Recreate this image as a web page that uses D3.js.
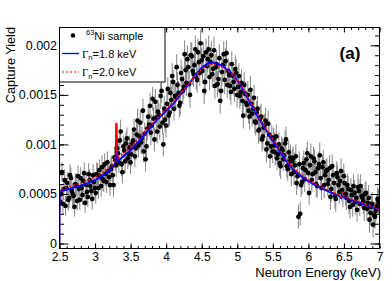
<!DOCTYPE html>
<html><head><meta charset="utf-8">
<script src="https://cdn.jsdelivr.net/npm/d3@7"></script>
<style>body{margin:0;background:#fff}svg{display:block}</style>
</head><body>
<script>
// ---- data (yields and errors in units of 1e-4) ----
const UNIT = 1e-4;
const energy = [
2.51,2.535,2.56,2.585,2.61,2.635,2.66,2.685,2.71,2.735,
2.76,2.785,2.81,2.835,2.86,2.885,2.91,2.935,2.96,2.985,
3.01,3.035,3.06,3.085,3.11,3.135,3.16,3.185,3.21,3.235,
3.26,3.285,3.31,3.335,3.36,3.385,3.41,3.435,3.46,3.485,
3.51,3.535,3.56,3.585,3.61,3.635,3.66,3.685,3.71,3.735,
3.76,3.785,3.81,3.835,3.86,3.885,3.91,3.935,3.96,3.985,
4.01,4.035,4.06,4.085,4.11,4.135,4.16,4.185,4.21,4.235,
4.26,4.285,4.31,4.335,4.36,4.385,4.41,4.435,4.46,4.485,
4.51,4.535,4.56,4.585,4.61,4.635,4.66,4.685,4.71,4.735,
4.76,4.785,4.81,4.835,4.86,4.885,4.91,4.935,4.96,4.985,
5.01,5.035,5.06,5.085,5.11,5.135,5.16,5.185,5.21,5.235,
5.26,5.285,5.31,5.335,5.36,5.385,5.41,5.435,5.46,5.485,
5.51,5.535,5.56,5.585,5.61,5.635,5.66,5.685,5.71,5.735,
5.76,5.785,5.81,5.835,5.86,5.885,5.91,5.935,5.96,5.985,
6.01,6.035,6.06,6.085,6.11,6.135,6.16,6.185,6.21,6.235,
6.26,6.285,6.31,6.335,6.36,6.385,6.41,6.435,6.46,6.485,
6.51,6.535,6.56,6.585,6.61,6.635,6.66,6.685,6.71,6.735,
6.76,6.785,6.81,6.835,6.86,6.885,6.91,6.935,6.96,6.985,
2.523,2.548,2.573,2.598,2.623,2.648,2.673,2.698,2.723,2.748,
2.773,2.798,2.823,2.848,2.873,2.898,2.923,2.948,2.973,2.998,
3.023,3.048,3.073,3.098,3.123,3.148,3.173,3.198,3.223,3.248,
3.273,3.298,3.323,3.348,3.373,3.398,3.423,3.448,3.473,3.498,
3.523,3.548,3.573,3.598,3.623,3.648,3.673,3.698,3.723,3.748,
3.773,3.798,3.823,3.848,3.873,3.898,3.923,3.948,3.973,3.998,
4.023,4.048,4.073,4.098,4.123,4.148,4.173,4.198,4.223,4.248,
4.273,4.298,4.323,4.348,4.373,4.398,4.423,4.448,4.473,4.498,
4.523,4.548,4.573,4.598,4.623,4.648,4.673,4.698,4.723,4.748,
4.773,4.798,4.823,4.848,4.873,4.898,4.923,4.948,4.973,4.998,
5.023,5.048,5.073,5.098,5.123,5.148,5.173,5.198,5.223,5.248,
5.273,5.298,5.323,5.348,5.373,5.398,5.423,5.448,5.473,5.498,
5.523,5.548,5.573,5.598,5.623,5.648,5.673,5.698,5.723,5.748,
5.773,5.798,5.823,5.848,5.873,5.898,5.923,5.948,5.973,5.998,
6.023,6.048,6.073,6.098,6.123,6.148,6.173,6.198,6.223,6.248,
6.273,6.298,6.323,6.348,6.373,6.398,6.423,6.448,6.473,6.498,
6.523,6.548,6.573,6.598,6.623,6.648,6.673,6.698,6.723,6.748,
6.773,6.798,6.823,6.848,6.873,6.898,6.923,6.948,6.973,6.998];
const yieldE4 = [
4.2,7.2,5.5,3.8,6.1,4.6,6.6,5.0,3.7,5.9,
6.8,4.4,5.6,6.3,4.1,5.2,7.0,5.8,4.5,6.2,
5.1,6.9,7.4,5.8,6.5,8.0,6.2,7.3,5.9,7.8,
5.9,8.4,9.6,8.2,11.3,7.2,9.4,10.1,8.6,9.7,
9.0,10.4,8.8,11.0,9.9,12.2,10.6,9.3,8.5,11.6,
12.0,11.2,14.6,10.5,12.7,13.3,11.8,15.4,10.0,12.5,
14.1,12.9,15.2,16.9,13.6,14.8,16.0,13.9,17.2,15.4,
19.1,16.2,17.8,15.0,18.9,17.1,19.6,16.5,18.3,20.2,
17.4,15.4,19.3,18.6,16.8,19.0,17.6,15.9,18.1,16.6,
14.4,17.3,19.1,18.4,16.0,17.0,15.3,16.9,15.6,17.2,
15.8,14.9,16.2,12.9,15.1,14.0,13.4,15.5,13.1,14.7,
12.2,13.6,11.5,12.8,10.8,11.9,9.5,12.1,8.8,10.7,
10.5,9.2,8.6,10.0,7.8,9.4,8.9,10.5,7.5,8.3,
7.0,8.6,7.9,6.1,2.7,3.0,6.2,8.1,7.4,9.1,
5.1,8.8,7.0,8.3,6.0,7.6,8.9,5.6,8.2,6.9,
7.4,6.4,4.7,7.8,6.1,4.5,6.7,5.2,7.3,4.9,
6.1,4.6,5.5,3.7,4.9,5.8,4.2,3.4,5.3,5.8,
4.6,3.6,5.1,4.1,2.4,3.7,1.9,2.7,3.7,4.2,
5.0,4.0,6.4,5.6,4.4,6.9,5.3,4.8,6.0,4.3,
5.5,6.6,4.9,7.1,5.9,4.7,6.4,5.3,6.9,5.6,
7.0,5.6,6.8,7.7,6.3,7.0,8.2,6.7,7.5,6.9,
8.7,7.9,9.1,10.4,8.0,9.8,8.3,10.6,9.0,8.2,
10.1,11.5,9.6,12.4,10.8,10.2,13.4,11.1,9.8,12.8,
13.9,11.9,12.6,14.3,11.3,13.0,14.9,12.2,13.6,11.9,
15.6,13.2,14.5,16.3,14.9,17.8,15.2,14.2,16.6,15.8,
17.5,18.6,16.1,19.0,17.4,18.0,16.8,19.3,17.2,18.5,
18.9,16.3,17.9,19.6,18.3,17.1,19.5,17.8,16.1,18.7,
15.4,18.0,16.5,19.2,17.4,15.9,18.1,16.3,17.6,15.0,
16.9,15.3,14.4,16.0,14.2,15.0,12.8,14.1,13.6,12.3,
13.2,11.4,12.6,10.5,11.7,12.4,10.1,11.0,9.8,9.3,
9.9,10.8,9.0,8.1,9.6,8.5,10.1,7.8,9.2,8.7,
8.3,7.2,8.8,6.8,8.0,5.9,7.6,6.5,8.5,7.1,
7.9,6.4,8.6,7.2,5.8,8.0,6.6,7.7,5.9,7.3,
6.0,7.6,5.5,6.9,4.8,7.1,5.9,6.3,5.4,6.8,
5.0,5.9,4.3,5.4,3.9,5.1,4.6,5.7,4.0,4.8,
4.3,5.0,3.5,4.6,3.1,4.0,2.9,3.3,4.5,3.6];
const errE4 = [
1.1,1.0,1.1,1.0,1.1,1.0,1.1,1.1,1.0,1.1,
1.1,1.0,1.1,1.1,1.0,1.1,1.1,1.0,1.1,1.1,
1.1,1.2,1.1,1.1,1.2,1.1,1.1,1.2,1.1,1.1,
1.2,1.1,1.2,1.1,1.2,1.1,1.2,1.2,1.1,1.2,
1.2,1.2,1.1,1.2,1.2,1.3,1.2,1.1,1.2,1.2,
1.2,1.3,1.2,1.2,1.3,1.2,1.3,1.2,1.2,1.3,
1.3,1.2,1.3,1.3,1.2,1.3,1.3,1.2,1.4,1.3,
1.4,1.3,1.3,1.3,1.4,1.3,1.4,1.3,1.3,1.4,
1.3,1.3,1.4,1.3,1.3,1.4,1.3,1.3,1.4,1.3,
1.3,1.4,1.3,1.3,1.3,1.4,1.3,1.3,1.3,1.4,
1.3,1.3,1.4,1.3,1.3,1.3,1.3,1.4,1.3,1.3,
1.3,1.3,1.2,1.3,1.3,1.2,1.3,1.3,1.2,1.3,
1.2,1.3,1.2,1.2,1.3,1.2,1.2,1.3,1.2,1.2,
1.2,1.2,1.3,1.2,1.2,1.2,1.2,1.3,1.2,1.2,
1.2,1.3,1.2,1.2,1.3,1.2,1.3,1.2,1.2,1.3,
1.2,1.2,1.3,1.2,1.2,1.3,1.2,1.2,1.3,1.2,
1.2,1.2,1.3,1.2,1.2,1.2,1.3,1.2,1.2,1.2,
1.2,1.3,1.2,1.2,1.3,1.2,1.3,1.2,1.2,1.3,
1.0,1.1,1.1,1.0,1.1,1.1,1.0,1.1,1.1,1.0,
1.1,1.1,1.0,1.1,1.1,1.0,1.1,1.1,1.1,1.0,
1.2,1.1,1.1,1.2,1.1,1.2,1.1,1.1,1.2,1.1,
1.1,1.2,1.2,1.1,1.2,1.1,1.2,1.1,1.2,1.2,
1.2,1.1,1.2,1.2,1.3,1.2,1.2,1.1,1.2,1.3,
1.3,1.2,1.2,1.3,1.2,1.2,1.3,1.2,1.3,1.2,
1.2,1.3,1.3,1.2,1.3,1.3,1.2,1.3,1.3,1.2,
1.3,1.4,1.3,1.3,1.4,1.3,1.3,1.4,1.3,1.3,
1.4,1.3,1.3,1.4,1.3,1.3,1.4,1.3,1.3,1.4,
1.3,1.3,1.4,1.3,1.3,1.4,1.3,1.3,1.4,1.3,
1.3,1.4,1.3,1.3,1.3,1.4,1.3,1.3,1.3,1.2,
1.2,1.3,1.3,1.2,1.3,1.3,1.2,1.3,1.2,1.2,
1.3,1.2,1.2,1.3,1.2,1.2,1.3,1.2,1.2,1.3,
1.2,1.3,1.2,1.2,1.3,1.2,1.2,1.3,1.2,1.2,
1.3,1.2,1.2,1.3,1.2,1.3,1.2,1.2,1.3,1.2,
1.2,1.3,1.2,1.2,1.3,1.2,1.2,1.3,1.2,1.3,
1.2,1.2,1.3,1.2,1.2,1.3,1.2,1.3,1.2,1.2,
1.3,1.2,1.2,1.3,1.2,1.2,1.3,1.2,1.2,1.3];

const fitEnergy = [2.5,2.5,2.6,2.7,2.8,2.9,3.0,3.1,3.2,
3.25,3.28,3.295,3.3,3.305,3.32,3.35,3.4,
3.5,3.6,3.7,3.8,3.9,4.0,4.1,4.2,4.3,4.4,4.5,4.6,
4.65,
4.7,4.8,4.9,5.0,5.1,5.2,5.3,5.4,5.5,5.6,5.7,5.8,5.9,6.0,6.1,6.2,6.3,6.4,
6.44,6.46,6.48,
6.5,6.6,6.7,6.8,6.9,7.0];
const fitG18E4 = [0,5.25,5.45,5.65,5.85,6.1,6.4,6.8,7.35,
7.75,8.05,9.0,12.1,9.5,8.3,8.5,8.8,
9.4,10.2,11.0,11.9,12.7,13.4,14.1,15.0,15.9,16.9,17.75,18.25,
18.3,
18.2,17.9,17.3,16.5,15.3,14.0,12.7,11.5,10.4,9.3,8.2,7.4,6.8,6.3,5.9,5.55,5.2,4.9,
4.75,4.6,5.0,
4.65,4.4,4.15,3.9,3.65,3.4];
const fitG20E4 = [0,5.45,5.7,5.9,6.1,6.4,6.7,7.1,7.65,
8.05,8.35,9.3,12.2,9.8,8.6,8.8,9.1,
9.7,10.5,11.3,12.1,12.9,13.55,14.25,15.1,15.95,16.85,17.6,18.05,
18.1,
18.0,17.75,17.25,16.5,15.35,14.1,12.85,11.65,10.55,9.45,8.35,7.55,6.95,6.45,6.0,5.65,5.3,5.0,
4.85,4.7,5.1,
4.75,4.5,4.25,3.98,3.72,3.45];

const xTicks = [2.5,3,3.5,4,4.5,5,5.5,6,6.5,7];
const xTickLabels = ["2.5","3","3.5","4","4.5","5","5.5","6","6.5","7"];
const yTicks = [0,0.0005,0.001,0.0015,0.002];
const yTickLabels = ["0","0.0005","0.001","0.0015","0.002"];
const xMinorTicks = d3.range(25,71).map(v => v/10);
const yMinorTicks = d3.range(0,22).map(v => v/10000);

// ---- layout ----
const W = 392, H = 281;
const L = 59.5, R = 379.5, T = 27.5, B = 248.5;
const FONT = "'Liberation Sans', Arial, Helvetica, sans-serif";

const svg = d3.select("body").append("svg").attr("width", W).attr("height", H)
  .style("font-family", FONT);

const x = d3.scaleLinear().domain([2.5, 7]).range([L, R]);
const y = d3.scaleLinear().domain([-0.00005, 0.00218]).range([B, T]);

svg.append("defs").append("clipPath").attr("id","clip")
  .append("rect").attr("x", L).attr("y", T).attr("width", R-L).attr("height", B-T);

const pts = energy.map((e,i) => ({e, v: yieldE4[i]*UNIT, err: errE4[i]*UNIT}));
const plot = svg.append("g").attr("clip-path","url(#clip)");

plot.append("g").selectAll("line").data(pts).join("line")
  .attr("x1", d => x(d.e)).attr("x2", d => x(d.e))
  .attr("y1", d => y(d.v - d.err)).attr("y2", d => y(d.v + d.err))
  .attr("stroke", "#858585").attr("stroke-width", 1);
plot.append("g").selectAll("circle").data(pts).join("circle")
  .attr("cx", d => x(d.e)).attr("cy", d => y(d.v)).attr("r", 2.4).attr("fill", "#000");

const line = d3.line().x(d => x(d[0])).y(d => y(d[1]));
const fit18 = fitEnergy.map((e,i) => [e, fitG18E4[i]*UNIT]);
const fit20 = fitEnergy.map((e,i) => [e, fitG20E4[i]*UNIT]);
plot.append("path").datum(fit18).attr("d", line).attr("fill","none")
  .attr("stroke","#0000ff").attr("stroke-width",2);
plot.append("path").datum(fit20).attr("d", line).attr("fill","none")
  .attr("stroke","#ff0000").attr("stroke-width",1.6).attr("stroke-dasharray","2,2");

// ---- axes ----
function styleAxis(g){ g.select(".domain").remove(); g.selectAll("line").attr("stroke","#000"); g.selectAll("text").attr("fill","#000").style("font-family", FONT); }

svg.append("g").attr("transform",`translate(0,${B})`)
  .call(d3.axisBottom(x).tickValues(xMinorTicks).tickSize(-2.5).tickFormat("")).call(styleAxis);
svg.append("g").attr("transform",`translate(0,${B})`)
  .call(d3.axisBottom(x).tickValues(xTicks).tickSize(-5).tickPadding(4)
    .tickFormat((d,i) => xTickLabels[i])).call(styleAxis)
  .selectAll("text").style("font-size","12px");
svg.append("g").attr("transform",`translate(0,${T})`)
  .call(d3.axisTop(x).tickValues(xMinorTicks).tickSize(-2.5).tickFormat("")).call(styleAxis);
svg.append("g").attr("transform",`translate(0,${T})`)
  .call(d3.axisTop(x).tickValues(xTicks).tickSize(-5).tickFormat("")).call(styleAxis);

svg.append("g").attr("transform",`translate(${L},0)`)
  .call(d3.axisLeft(y).tickValues(yMinorTicks).tickSize(-4.5).tickFormat("")).call(styleAxis);
svg.append("g").attr("transform",`translate(${L},0)`)
  .call(d3.axisLeft(y).tickValues(yTicks).tickSize(-9).tickPadding(2.5)
    .tickFormat((d,i) => yTickLabels[i])).call(styleAxis)
  .selectAll("text").style("font-size","12.5px");
svg.append("g").attr("transform",`translate(${R},0)`)
  .call(d3.axisRight(y).tickValues(yMinorTicks).tickSize(-4.5).tickFormat("")).call(styleAxis);
svg.append("g").attr("transform",`translate(${R},0)`)
  .call(d3.axisRight(y).tickValues(yTicks).tickSize(-9).tickFormat("")).call(styleAxis);

svg.append("rect").attr("x", L).attr("y", T).attr("width", R-L).attr("height", B-T)
  .attr("fill","none").attr("stroke","#000").attr("stroke-width",1);

// axis titles
svg.append("text").attr("x", 381).attr("y", 277).attr("text-anchor","end")
  .style("font-size","13px").text("Neutron Energy (keV)");
svg.append("text").attr("transform","translate(14.5,27) rotate(-90)").attr("text-anchor","end")
  .style("font-size","12.7px").text("Capture Yield");

// panel label
svg.append("text").attr("x", 350).attr("y", 58.5).attr("text-anchor","middle")
  .style("font-size","17px").style("font-weight","bold").text("(a)");

// ---- legend ----
const lg = svg.append("g");
lg.append("rect").attr("x", L).attr("y", T).attr("width", 165-L).attr("height", 82-T)
  .attr("fill","#fff").attr("stroke","#000").attr("stroke-width",1);
lg.append("circle").attr("cx",73).attr("cy",35.5).attr("r",2.3).attr("fill","#000");
const t1 = lg.append("text").attr("x",86).attr("y",39.5).style("font-size","11px");
t1.append("tspan").attr("dy",-5).style("font-size","7.5px").text("63");
t1.append("tspan").attr("dy",5).text("Ni sample");

lg.append("line").attr("x1",62).attr("x2",79).attr("y1",53.5).attr("y2",53.5)
  .attr("stroke","#0000ff").attr("stroke-width",1.3);
const t2 = lg.append("text").attr("x",82).attr("y",57.5).style("font-size","11px");
t2.append("tspan").style("font-family","'Liberation Serif','DejaVu Serif',serif").text("Γ");
t2.append("tspan").attr("dy",2.5).style("font-size","7.5px").text("n");
t2.append("tspan").attr("dy",-2.5).text("=1.8 keV");

lg.append("line").attr("x1",62).attr("x2",79).attr("y1",72).attr("y2",72)
  .attr("stroke","#ff0000").attr("stroke-width",1.1).attr("stroke-dasharray","2,2");
const t3 = lg.append("text").attr("x",82).attr("y",76).style("font-size","11px");
t3.append("tspan").style("font-family","'Liberation Serif','DejaVu Serif',serif").text("Γ");
t3.append("tspan").attr("dy",2.5).style("font-size","7.5px").text("n");
t3.append("tspan").attr("dy",-2.5).text("=2.0 keV");
</script>
</body></html>
